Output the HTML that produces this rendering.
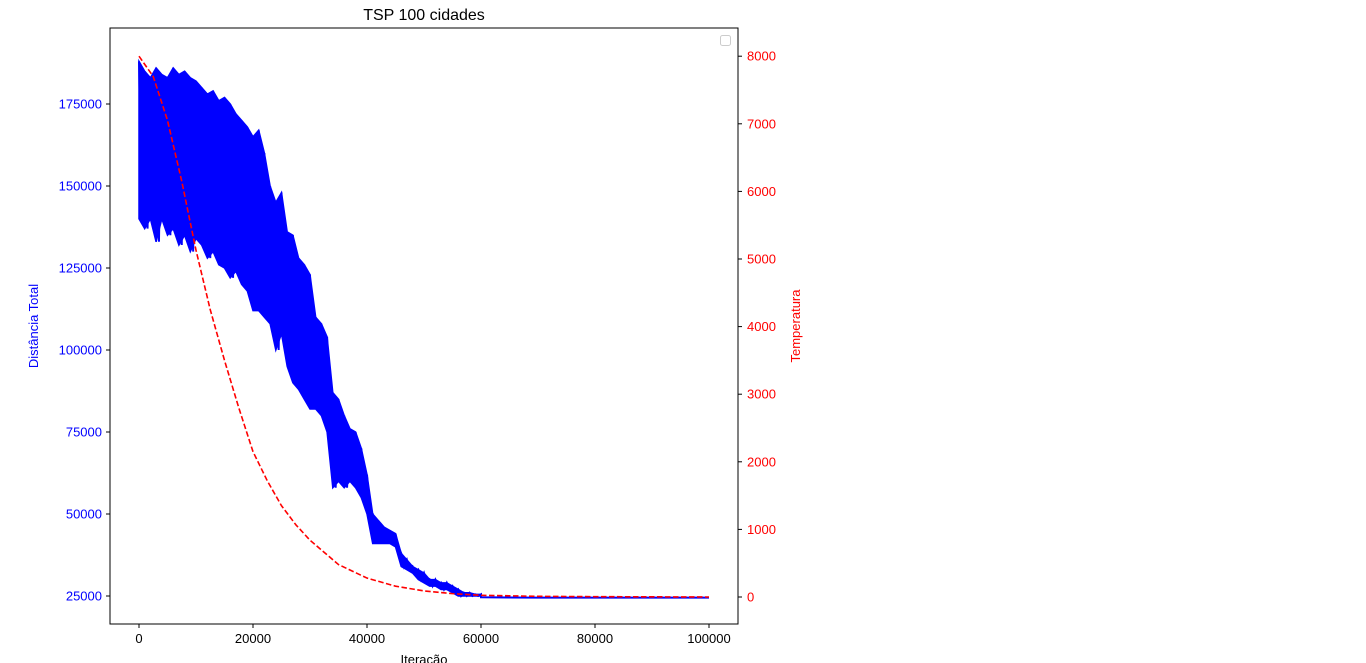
<!DOCTYPE html>
<html><head><meta charset="utf-8"><style>
html,body{margin:0;padding:0;background:#fff;width:1366px;height:663px;overflow:hidden}
svg{font-family:"Liberation Sans","DejaVu Sans",sans-serif}
</style></head><body>
<svg id="chart" width="1366" height="663">
<text x="424" y="20" text-anchor="middle" font-size="16">TSP 100 cidades</text>
<g id="plot"></g>
<rect x="110" y="28" width="628" height="596" fill="none" stroke="#000" stroke-width="1"/>
<rect x="720.5" y="35.5" width="10" height="10" rx="2" fill="#fff" stroke="#ccc"/>
<text x="38" y="326" transform="rotate(-90 38 326)" text-anchor="middle" font-size="13" fill="#0000ff">Distância Total</text>
<text x="800" y="326" transform="rotate(-90 800 326)" text-anchor="middle" font-size="13" fill="#ff0000">Temperatura</text>
<text x="424" y="664" text-anchor="middle" font-size="13">Iteração</text>
</svg>
<script>
const xTicks=[0,20000,40000,60000,80000,100000];
const yTicks=[25000,50000,75000,100000,125000,150000,175000];
const tTicks=[0,1000,2000,3000,4000,5000,6000,7000,8000];
const distHi=[188,185,183,186,184,183,186,184,185,183,182,180,178,179,176,177,175,172,170,168,165,167,160,150,145,148,136,135,128,126,123,110,108,104,87,85,80,76,75,70,62,50,48,46,45,44,38,36,34,33,32,30,30,29,29,28,27,26,26,25.5,25.5];
const distLo=[140,137,140,133,140,135,137,132,135,130,134,132,128,130,126,125,122,124,120,118,112,112,110,108,100,105,95,90,88,85,82,82,80,75,58,60,58,60,58,55,50,41,41,41,41,40,34,33,32,30,29,28,28,27,27,26,25,25,25,25,25];
const tailIter=[60000,70000,80000,90000,100000];
const tailDist=[24.6,24.5,24.5,24.5,24.5];
const tempIter=[0,2500,5000,7500,10000,12500,15000,17500,20000,22500,25000,27500,30000,35000,40000,45000,50000,55000,60000,70000,80000,100000];
const tempVals=[8000,7700,7050,6150,5130,4250,3500,2800,2150,1720,1350,1070,840,480,280,160,90,50,25,10,5,0];
const NS="http://www.w3.org/2000/svg";
const X=v=>139+(v/100000)*570;
const Y=v=>596-(v-25000)/25000*82;
const T=v=>597-v/1000*67.6;
const plot=document.getElementById('plot');
const svg=document.getElementById('chart');
function mk(tag,attrs,parent){const e=document.createElementNS(NS,tag);for(const k in attrs)e.setAttribute(k,attrs[k]);(parent||plot).appendChild(e);return e;}
let pts=[];
for(let i=0;i<distHi.length;i++){
  pts.push(X(i*1000)+','+Y(distHi[i]*1000));
  if(i<distLo.length-1)pts.push(X(i*1000+500)+','+Y(distLo[i]*1000));
}
for(let i=0;i<tailIter.length;i++)pts.push(X(tailIter[i])+','+Y(tailDist[i]*1000));
let poly=[];
for(let i=0;i<distHi.length;i++)poly.push(X(i*1000)+','+Y(distHi[i]*1000));
for(let i=distLo.length-1;i>=0;i--)poly.push(X(i*1000)+','+Y(distLo[i]*1000));
const fillEl=mk('polygon',{points:poly.join(' '),fill:'#0000ff',stroke:'#0000ff','stroke-width':1.5});


const dl=mk('polyline',{points:pts.join(' '),fill:'none',stroke:'#0000ff','stroke-width':2});


const tp=tempIter.map((v,i)=>X(v)+','+T(tempVals[i])).join(' ');
const tl=mk('polyline',{points:tp,fill:'none',stroke:'#ff0000','stroke-width':1.6,'stroke-dasharray':'5.5,2.5','stroke-linejoin':'round'});


xTicks.forEach(v=>{
  mk('line',{x1:X(v),x2:X(v),y1:624,y2:628,stroke:'#000'},svg);
  const t=mk('text',{x:X(v),y:643,'text-anchor':'middle','font-size':13},svg);
  t.textContent=v;
  
  
});
yTicks.forEach(v=>{
  mk('line',{x1:106,x2:110,y1:Y(v),y2:Y(v),stroke:'#000'},svg);
  const t=mk('text',{x:102,y:Y(v)+4.5,'text-anchor':'end','font-size':13,fill:'#0000ff'},svg);
  t.textContent=v;
  
  
});
tTicks.forEach(v=>{
  mk('line',{x1:738,x2:742,y1:T(v),y2:T(v),stroke:'#000'},svg);
  const t=mk('text',{x:747,y:T(v)+4.5,'text-anchor':'start','font-size':13,fill:'#ff0000'},svg);
  t.textContent=v;
  
  
});
</script>
</body></html>
